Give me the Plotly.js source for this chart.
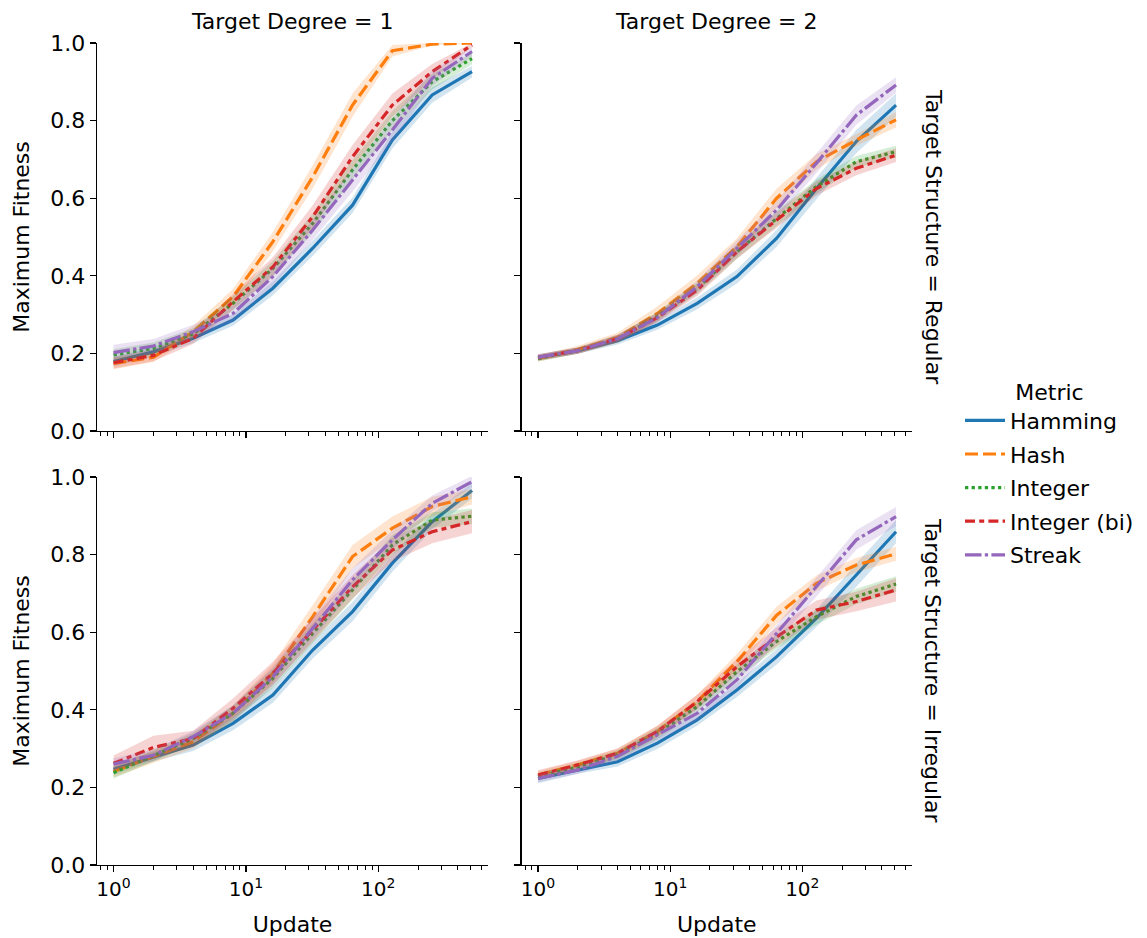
<!DOCTYPE html>
<html>
<head>
<meta charset="utf-8">
<script src="https://cdn.plot.ly/plotly-3.0.1.min.js"></script>
<style>html,body{margin:0;padding:0;background:#fff;}#chart{width:1147px;height:938px;}</style>
</head>
<body>
<div id="chart"></div>
<script>
// ---- data ----
const updates = [1, 2, 4, 8, 16, 32, 64, 128, 256, 512];
const metrics = ['Hamming', 'Hash', 'Integer', 'Integer (bi)', 'Streak'];
const degrees = ['1', '2'];
const structures = ['Regular', 'Irregular'];
const xTickVals = [1, 10, 100];
const xTickText = ['10<sup>0</sup>', '10<sup>1</sup>', '10<sup>2</sup>'];
const yTickVals = [0, 0.2, 0.4, 0.6, 0.8, 1.0];

// mean maximum fitness, rows in metric order
const deg1Regular = [
  [0.179, 0.204, 0.239, 0.286, 0.368, 0.471, 0.582, 0.750, 0.866, 0.926],
  [0.174, 0.190, 0.256, 0.346, 0.488, 0.655, 0.840, 0.980, 0.997, 1.000],
  [0.196, 0.213, 0.250, 0.329, 0.419, 0.535, 0.673, 0.800, 0.900, 0.960],
  [0.176, 0.195, 0.239, 0.333, 0.423, 0.552, 0.707, 0.840, 0.926, 0.995],
  [0.202, 0.219, 0.256, 0.303, 0.398, 0.518, 0.647, 0.776, 0.909, 0.978]
];
const deg2Regular = [
  [0.190, 0.207, 0.233, 0.273, 0.329, 0.398, 0.497, 0.625, 0.746, 0.840],
  [0.187, 0.210, 0.241, 0.303, 0.381, 0.475, 0.600, 0.694, 0.750, 0.802],
  [0.187, 0.207, 0.238, 0.295, 0.368, 0.462, 0.548, 0.630, 0.694, 0.720],
  [0.190, 0.207, 0.238, 0.292, 0.363, 0.462, 0.544, 0.625, 0.677, 0.711],
  [0.190, 0.207, 0.238, 0.292, 0.372, 0.471, 0.570, 0.690, 0.814, 0.892]
];
const deg1Irregular = [
  [0.247, 0.279, 0.309, 0.365, 0.438, 0.554, 0.653, 0.778, 0.885, 0.965],
  [0.241, 0.279, 0.318, 0.391, 0.494, 0.640, 0.795, 0.868, 0.924, 0.949],
  [0.238, 0.281, 0.326, 0.391, 0.481, 0.597, 0.709, 0.825, 0.889, 0.899],
  [0.262, 0.303, 0.326, 0.404, 0.494, 0.606, 0.717, 0.812, 0.859, 0.885],
  [0.260, 0.283, 0.331, 0.391, 0.485, 0.610, 0.735, 0.838, 0.932, 0.988]
];
const deg2Irregular = [
  [0.223, 0.245, 0.266, 0.314, 0.374, 0.451, 0.537, 0.636, 0.747, 0.859],
  [0.232, 0.258, 0.288, 0.344, 0.421, 0.524, 0.644, 0.726, 0.773, 0.802],
  [0.228, 0.253, 0.284, 0.339, 0.408, 0.498, 0.576, 0.640, 0.692, 0.724],
  [0.232, 0.258, 0.288, 0.344, 0.421, 0.511, 0.588, 0.657, 0.679, 0.709],
  [0.223, 0.245, 0.280, 0.335, 0.391, 0.477, 0.597, 0.717, 0.838, 0.898]
];

// 95% CI half-widths, same layout
const deg1RegularCI = [
  [0.012, 0.012, 0.012, 0.015, 0.018, 0.020, 0.020, 0.022, 0.020, 0.015],
  [0.015, 0.012, 0.015, 0.020, 0.025, 0.030, 0.030, 0.015, 0.003, 0.000],
  [0.015, 0.015, 0.015, 0.018, 0.020, 0.025, 0.025, 0.025, 0.020, 0.015],
  [0.015, 0.015, 0.015, 0.020, 0.025, 0.030, 0.030, 0.030, 0.020, 0.005],
  [0.020, 0.018, 0.018, 0.020, 0.025, 0.025, 0.030, 0.030, 0.020, 0.012]
];
const deg2RegularCI = [
  [0.008, 0.008, 0.010, 0.012, 0.015, 0.018, 0.022, 0.028, 0.030, 0.030],
  [0.008, 0.010, 0.012, 0.018, 0.020, 0.022, 0.025, 0.020, 0.015, 0.020],
  [0.008, 0.008, 0.010, 0.012, 0.015, 0.018, 0.020, 0.018, 0.015, 0.015],
  [0.008, 0.008, 0.010, 0.012, 0.015, 0.018, 0.020, 0.018, 0.018, 0.018],
  [0.008, 0.008, 0.010, 0.012, 0.015, 0.020, 0.022, 0.025, 0.025, 0.020]
];
const deg1IrregularCI = [
  [0.015, 0.012, 0.015, 0.018, 0.020, 0.022, 0.025, 0.022, 0.020, 0.020],
  [0.015, 0.015, 0.018, 0.020, 0.025, 0.030, 0.030, 0.030, 0.025, 0.020],
  [0.015, 0.015, 0.015, 0.020, 0.025, 0.025, 0.025, 0.025, 0.020, 0.020],
  [0.020, 0.030, 0.020, 0.025, 0.030, 0.030, 0.030, 0.030, 0.030, 0.030],
  [0.015, 0.015, 0.015, 0.020, 0.025, 0.030, 0.030, 0.025, 0.020, 0.015]
];
const deg2IrregularCI = [
  [0.012, 0.010, 0.012, 0.015, 0.015, 0.018, 0.020, 0.022, 0.030, 0.030],
  [0.010, 0.010, 0.012, 0.015, 0.018, 0.020, 0.022, 0.020, 0.018, 0.018],
  [0.010, 0.010, 0.012, 0.015, 0.015, 0.018, 0.018, 0.020, 0.020, 0.020],
  [0.012, 0.012, 0.012, 0.015, 0.018, 0.020, 0.025, 0.025, 0.025, 0.030],
  [0.010, 0.010, 0.012, 0.015, 0.018, 0.020, 0.022, 0.025, 0.025, 0.025]
];

// ---- styling ----
const colors = ['#1f77b4', '#ff7f0e', '#2ca02c', '#d62728', '#9467bd'];
const fills = ['rgba(31,119,180,0.2)', 'rgba(255,127,14,0.2)', 'rgba(44,160,44,0.2)', 'rgba(214,39,40,0.2)', 'rgba(148,103,189,0.2)'];
const LW = 3.2;
const dashes = ['solid', '13px,5px', '3.3px,3.3px', '10px,4.2px,5px,4.2px', '16.5px,3.3px,3.3px,3.3px'];
const FONT = 'DejaVu Sans, sans-serif';

const panels = [
  {mean: deg1Regular, ci: deg1RegularCI, xa: 'x', ya: 'y'},
  {mean: deg2Regular, ci: deg2RegularCI, xa: 'x2', ya: 'y2'},
  {mean: deg1Irregular, ci: deg1IrregularCI, xa: 'x3', ya: 'y3'},
  {mean: deg2Irregular, ci: deg2IrregularCI, xa: 'x4', ya: 'y4'}
];

const traces = [];
panels.forEach((p, pi) => {
  metrics.forEach((m, mi) => {
    const mean = p.mean[mi];
    const ci = p.ci[mi];
    traces.push({
      x: updates, y: mean, xaxis: p.xa, yaxis: p.ya, type: 'scatter', mode: 'lines',
      name: m, legendgroup: m, showlegend: pi === 0,
      line: {color: colors[mi], width: LW, dash: dashes[mi]}, hoverinfo: 'skip'
    });
    traces.push({
      x: updates, y: mean.map((v, i) => v - ci[i]), xaxis: p.xa, yaxis: p.ya, type: 'scatter', mode: 'lines',
      line: {width: 0, color: 'rgba(0,0,0,0)'}, showlegend: false, hoverinfo: 'skip'
    });
    traces.push({
      x: updates, y: mean.map((v, i) => v + ci[i]), xaxis: p.xa, yaxis: p.ya, type: 'scatter', mode: 'lines',
      line: {width: 0, color: 'rgba(0,0,0,0)'}, fill: 'tonexty', fillcolor: fills[mi], showlegend: false, hoverinfo: 'skip'
    });
  });
});

const W = 1147, H = 938;
const px = v => v / W;
const py = v => 1 - v / H;

const minorVals = [0.8, 0.9, 2, 3, 4, 5, 6, 7, 8, 9, 20, 30, 40, 50, 60, 70, 80, 90, 200, 300, 400, 500, 600];

function xAxis(domain, showLabels, anchor, title) {
  const ax = {
    type: 'log', domain: domain, anchor: anchor, range: [-0.125, 2.83],
    showgrid: false, zeroline: false, showline: true, linecolor: 'black', linewidth: 1.3,
    ticks: 'outside', ticklen: 6, tickwidth: 1.3, tickcolor: 'black',
    tickmode: 'array', tickvals: xTickVals, ticktext: xTickText, showticklabels: showLabels,
    tickfont: {family: FONT, size: 20, color: 'black'},
    minor: {tickmode: 'array', tickvals: minorVals, ticks: 'outside', ticklen: 3.5, tickwidth: 1, tickcolor: 'black', showgrid: false}
  };
  if (title) ax.title = {text: title, font: {family: FONT, size: 22, color: 'black'}, standoff: 16};
  return ax;
}
function yAxis(domain, showLabels, anchor, title) {
  const ax = {
    domain: domain, anchor: anchor, range: [0, 1.0],
    showgrid: false, zeroline: false, showline: true, linecolor: 'black', linewidth: 1.3,
    ticks: 'outside', ticklen: 6, tickwidth: 1.3, tickcolor: 'black',
    tickmode: 'array', tickvals: yTickVals, tickformat: '.1f', showticklabels: showLabels,
    tickfont: {family: FONT, size: 22, color: 'black'}
  };
  if (title) ax.title = {text: title, font: {family: FONT, size: 22, color: 'black'}, standoff: 14};
  return ax;
}

const colL = [px(97), px(488)], colR = [px(521.5), px(912)];
const rowT = [py(431), py(43)], rowB = [py(865), py(477)];

const layout = {
  width: W, height: H,
  margin: {l: 0, r: 0, t: 0, b: 0},
  paper_bgcolor: 'white', plot_bgcolor: 'white',
  font: {family: FONT, size: 22, color: 'black'},
  xaxis: xAxis(colL, false, 'y'),
  yaxis: yAxis(rowT, true, 'x', 'Maximum Fitness'),
  xaxis2: xAxis(colR, false, 'y2'),
  yaxis2: yAxis(rowT, false, 'x2'),
  xaxis3: xAxis(colL, true, 'y3', 'Update'),
  yaxis3: yAxis(rowB, true, 'x3', 'Maximum Fitness'),
  xaxis4: xAxis(colR, true, 'y4', 'Update'),
  yaxis4: yAxis(rowB, false, 'x4'),
  showlegend: true,
  legend: {
    x: px(960), y: py(371), xanchor: 'left', yanchor: 'top',
    bgcolor: 'rgba(0,0,0,0)', borderwidth: 0,
    font: {family: FONT, size: 22, color: 'black'},
    title: {text: 'Metric', side: 'top center', font: {family: FONT, size: 22, color: 'black'}},
    itemwidth: 40, tracegroupgap: 2
  },
  annotations: [
    {text: 'Target Degree = ' + degrees[0], x: (colL[0] + colL[1]) / 2, y: py(36), xref: 'paper', yref: 'paper', xanchor: 'center', yanchor: 'bottom', showarrow: false, font: {family: FONT, size: 22, color: 'black'}},
    {text: 'Target Degree = ' + degrees[1], x: (colR[0] + colR[1]) / 2, y: py(36), xref: 'paper', yref: 'paper', xanchor: 'center', yanchor: 'bottom', showarrow: false, font: {family: FONT, size: 22, color: 'black'}},
    {text: 'Target Structure = ' + structures[0], x: px(933), y: (rowT[0] + rowT[1]) / 2, xref: 'paper', yref: 'paper', xanchor: 'center', yanchor: 'middle', textangle: 90, showarrow: false, font: {family: FONT, size: 22, color: 'black'}},
    {text: 'Target Structure = ' + structures[1], x: px(933), y: (rowB[0] + rowB[1]) / 2, xref: 'paper', yref: 'paper', xanchor: 'center', yanchor: 'middle', textangle: 90, showarrow: false, font: {family: FONT, size: 22, color: 'black'}}
  ]
};

Plotly.newPlot('chart', traces, layout, {staticPlot: true, displayModeBar: false});
</script>
</body>
</html>
